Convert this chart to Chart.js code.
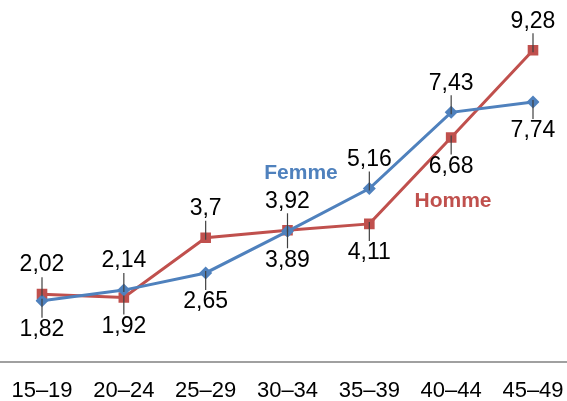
<html>
<head>
<script src="https://cdn.jsdelivr.net/npm/chart.js"></script>
<style>
    body { margin: 0; background: #ffffff; }
    #wrap { width: 567px; height: 401px; }
</style>
</head>
<body>
<div id="wrap"><canvas id="myChart" width="567" height="401"></canvas></div>
<script>
    // age groups and rates per series
    var ageGroups = ['15–19', '20–24', '25–29', '30–34', '35–39', '40–44', '45–49'];
    var femmeValues = [1.82, 2.14, 2.65, 3.89, 5.16, 7.43, 7.74];
    var hommeValues = [2.02, 1.92, 3.70, 3.92, 4.11, 6.68, 9.28];

    // where each value label sits relative to its point
    var femmeLabelSide = ['below', 'above', 'below', 'below', 'above', 'above', 'below'];
    var hommeLabelSide = ['above', 'below', 'above', 'above', 'below', 'below', 'above'];

    var blue = '#4F81BD';
    var red = '#C0504D';

    function frNumber(v) {
        return String(v).replace('.', ',');
    }

    var labelPlugin = {
        id: 'valueLabels',
        afterDatasetsDraw: function (chart) {
            var ctx = chart.ctx;
            var sides = [femmeLabelSide, hommeLabelSide];
            ctx.save();
            ctx.font = '23px "Liberation Sans", Arial, sans-serif';
            ctx.textAlign = 'center';
            ctx.textBaseline = 'middle';
            chart.data.datasets.forEach(function (ds, di) {
                var meta = chart.getDatasetMeta(di);
                meta.data.forEach(function (pt, i) {
                    var dir = sides[di][i] === 'above' ? -1 : 1;
                    var off = 29;
                    // leader line
                    ctx.strokeStyle = '#404040';
                    ctx.lineWidth = 1.2;
                    ctx.beginPath();
                    ctx.moveTo(pt.x, pt.y - dir * 2);
                    ctx.lineTo(pt.x, pt.y + dir * (off - 12));
                    ctx.stroke();
                    ctx.fillStyle = '#000000';
                    ctx.fillText(frNumber(ds.data[i]), pt.x, pt.y + dir * off);
                });
            });
            // series names
            ctx.font = 'bold 21px "Liberation Sans", Arial, sans-serif';
            ctx.fillStyle = blue;
            ctx.fillText('Femme', 301, 173);
            ctx.fillStyle = red;
            ctx.fillText('Homme', 453, 201);
            // baseline across the whole width
            var y0 = chart.scales.y.getPixelForValue(0);
            ctx.strokeStyle = '#808080';
            ctx.lineWidth = 1.5;
            ctx.beginPath();
            ctx.moveTo(0, y0);
            ctx.lineTo(chart.width, y0);
            ctx.stroke();
            ctx.restore();
        }
    };

    var paintingCanvas = document.getElementById('myChart').getContext('2d');
    var chart = new Chart(paintingCanvas, {
        type: 'line',
        data: {
            labels: ageGroups,
            datasets: [
                {
                    label: 'Femme',
                    data: femmeValues,
                    borderColor: blue,
                    backgroundColor: blue,
                    borderWidth: 3,
                    pointStyle: 'rectRot',
                    pointRadius: 6.5,
                    pointBorderWidth: 0,
                    tension: 0
                },
                {
                    label: 'Homme',
                    data: hommeValues,
                    borderColor: red,
                    backgroundColor: red,
                    borderWidth: 3,
                    pointStyle: 'rect',
                    pointRadius: 7.5,
                    pointBorderWidth: 0,
                    tension: 0
                }
            ]
        },
        options: {
            responsive: false,
            animation: false,
            layout: { padding: { left: 42, right: 34, top: 26, bottom: 0 } },
            plugins: {
                legend: { display: false },
                tooltip: { enabled: false }
            },
            scales: {
                x: {
                    offset: false,
                    grid: { display: false, drawTicks: false },
                    border: { display: false },
                    afterFit: function (scale) {
                        scale.height = 39;
                        scale.paddingLeft = 0;
                        scale.paddingRight = 0;
                    },
                    ticks: {
                        color: '#000000',
                        padding: 16,
                        maxRotation: 0,
                        autoSkip: false,
                        font: { family: '"Liberation Sans", Arial, sans-serif', size: 22 }
                    }
                },
                y: {
                    display: false,
                    min: 0,
                    max: 10
                }
            }
        },
        plugins: [labelPlugin]
    });
</script>
</body>
</html>
